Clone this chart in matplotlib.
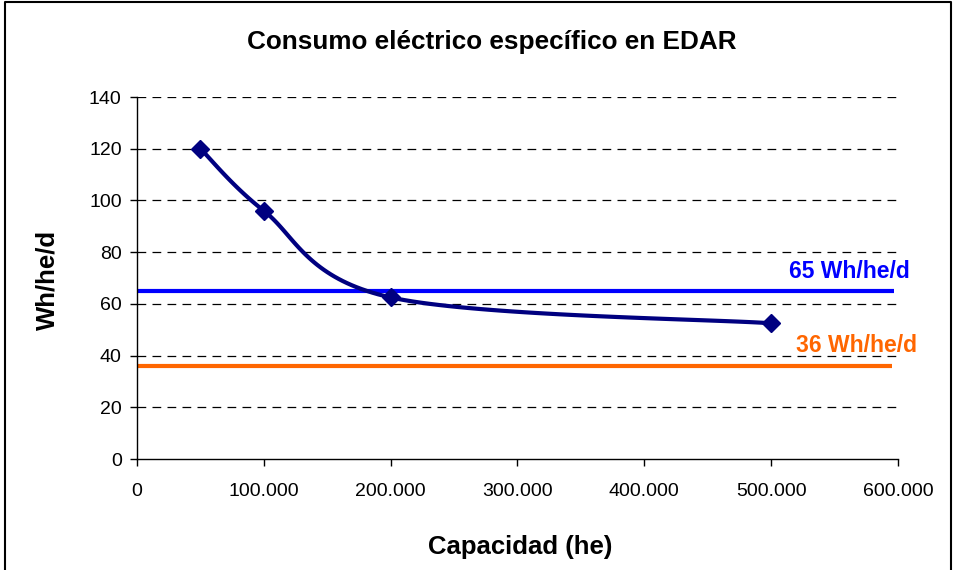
import numpy as np
import matplotlib
matplotlib.use("Agg")
import matplotlib.pyplot as plt
from matplotlib.ticker import FuncFormatter, MultipleLocator

plt.rcParams['font.family'] = ['Liberation Sans', 'DejaVu Sans']

# Data
capacidad = [50000, 100000, 200000, 500000]
consumo = [120, 96, 62.5, 52.5]
ref_alta = 65
ref_baja = 36
ref_x = [0, 597000]

fig = plt.figure(figsize=(9.54, 5.70), dpi=100)
ax = fig.add_axes([0.1436, 0.1947, 0.9413 - 0.1436, 0.8298 - 0.1947])

ax.set_xlim(0, 600000)
ax.set_ylim(0, 140)


def excel_smooth(xs, ys, n=40):
    # Bezier smoothing in display space, like a spreadsheet "smoothed line"
    pts = ax.transData.transform(np.column_stack([xs, ys]))
    p = np.vstack([pts[0], pts, pts[-1]])
    out = []
    for i in range(1, len(p) - 2):
        p0, p1 = p[i], p[i + 1]
        c1 = p0 + (p[i + 1] - p[i - 1]) / 6.0
        c2 = p1 - (p[i + 2] - p[i]) / 6.0
        t = np.linspace(0, 1, n)[:, None]
        seg = ((1 - t) ** 3) * p0 + 3 * ((1 - t) ** 2) * t * c1 + 3 * (1 - t) * t ** 2 * c2 + t ** 3 * p1
        out.append(seg if i == 1 else seg[1:])
    curve = np.vstack(out)
    return ax.transData.inverted().transform(curve).T


# dashed gridlines
for yv in range(20, 141, 20):
    ax.axhline(yv, color='black', lw=0.9, ls=(0, (7, 5)), zorder=1)

ax.plot(ref_x, [ref_alta, ref_alta], color='#0000FF', lw=3, solid_capstyle='butt', zorder=2)
ax.plot(ref_x[:1] + [595000], [ref_baja, ref_baja], color='#FF6600', lw=3, solid_capstyle='butt', zorder=2)

cx, cy = excel_smooth(capacidad, consumo)
ax.plot(cx, cy, color='#000080', lw=3, zorder=3)
ax.plot(capacidad, consumo, ls='none', marker='D', ms=9.5, color='#000080', zorder=4)

ax.text(609000, ref_alta + 5, f'{ref_alta} Wh/he/d', color='#0000FF', fontsize=16.5,
        fontweight='bold', ha='right', va='baseline', clip_on=False)
ax.text(615000, ref_baja + 5.4, f'{ref_baja} Wh/he/d', color='#FF6600', fontsize=16.5,
        fontweight='bold', ha='right', va='baseline', clip_on=False)

ax.xaxis.set_major_locator(MultipleLocator(100000))
ax.yaxis.set_major_locator(MultipleLocator(20))
ax.xaxis.set_major_formatter(FuncFormatter(lambda v, p: f'{int(v):,}'.replace(',', '.')))

for s in ['top', 'right']:
    ax.spines[s].set_visible(False)
for s in ['left', 'bottom']:
    ax.spines[s].set_linewidth(1.0)
ax.tick_params(axis='both', direction='out', length=5, width=1, labelsize=14, colors='black')
ax.tick_params(axis='x', pad=12)
ax.tick_params(axis='y', pad=6)

fig.text(492 / 954, 1 - 42 / 570, 'Consumo eléctrico específico en EDAR', fontsize=18.8,
         fontweight='bold', ha='center', va='center')
fig.text(520 / 954, 1 - 547 / 570, 'Capacidad (he)', fontsize=18.5,
         fontweight='bold', ha='center', va='center')
fig.text(47 / 954, 1 - 280 / 570, 'Wh/he/d', fontsize=18.5, fontweight='bold',
         ha='center', va='center', rotation=90)

# outer frame (left, top, right)
fig.add_artist(plt.Line2D([5 / 954, 5 / 954, 951 / 954, 951 / 954],
                          [0, 1 - 2 / 570, 1 - 2 / 570, 0],
                          transform=fig.transFigure, color='black', lw=1.5))

fig.savefig('out.png', dpi=100, facecolor='white')
